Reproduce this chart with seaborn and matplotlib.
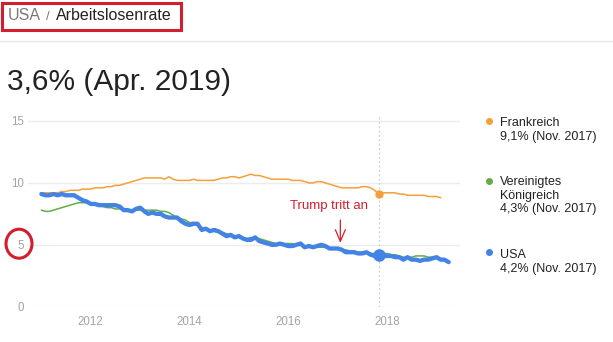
import numpy as np
import pandas as pd
import matplotlib
matplotlib.use("Agg")
import matplotlib.pyplot as plt
import matplotlib.dates as mdates
from matplotlib.patches import Ellipse, Rectangle
from matplotlib.lines import Line2D
import seaborn as sns

# ---------------- data (monthly) ----------------
usa = [
    9.1, 9.0, 9.0, 9.1, 9.0, 9.1, 9.0, 9.0, 9.0, 8.8, 8.6, 8.5,
    8.3, 8.3, 8.2, 8.2, 8.2, 8.2, 8.2, 8.1, 7.8, 7.8, 7.7, 7.9,
    8.0, 7.7, 7.5, 7.6, 7.5, 7.5, 7.3, 7.2, 7.2, 7.2, 6.9, 6.7,
    6.6, 6.7, 6.7, 6.2, 6.3, 6.1, 6.2, 6.1, 5.9, 5.7, 5.8, 5.6,
    5.7, 5.5, 5.4, 5.4, 5.6, 5.3, 5.2, 5.1, 5.0, 5.0, 5.1, 5.0,
    4.9, 4.9, 5.0, 5.1, 4.8, 4.9, 4.8, 4.9, 5.0, 4.9, 4.7, 4.7,
    4.7, 4.6, 4.4, 4.4, 4.4, 4.3, 4.3, 4.4, 4.2, 4.1, 4.2, 4.1,
    4.1, 4.1, 4.0, 4.0, 3.8, 4.0, 3.8, 3.8, 3.7, 3.8, 3.8, 3.9,
    4.0, 3.8, 3.8, 3.6,
]
frankreich = [
    9.2, 9.2, 9.2, 9.2, 9.2, 9.3, 9.3, 9.4, 9.4, 9.4, 9.5, 9.5,
    9.5, 9.6, 9.6, 9.6, 9.7, 9.7, 9.8, 9.8, 9.9, 10.0, 10.1, 10.2,
    10.3, 10.4, 10.4, 10.4, 10.4, 10.4, 10.3, 10.5, 10.3, 10.2, 10.2, 10.2,
    10.2, 10.3, 10.2, 10.2, 10.2, 10.2, 10.2, 10.3, 10.4, 10.4, 10.5, 10.5,
    10.4, 10.5, 10.6, 10.7, 10.6, 10.6, 10.5, 10.4, 10.3, 10.3, 10.3, 10.3,
    10.3, 10.2, 10.2, 10.2, 10.1, 10.0, 10.0, 10.1, 10.1, 10.0, 9.9, 9.8,
    9.7, 9.6, 9.6, 9.6, 9.6, 9.6, 9.7, 9.7, 9.6, 9.4, 9.1, 9.2,
    9.2, 9.2, 9.2, 9.1, 9.1, 9.0, 9.0, 9.0, 9.0, 9.0, 8.9, 8.9,
    8.9, 8.8,
]
uk = [
    7.8, 7.7, 7.7, 7.8, 7.9, 8.0, 8.1, 8.2, 8.3, 8.4, 8.4, 8.4,
    8.3, 8.3, 8.2, 8.1, 8.0, 8.0, 7.9, 7.9, 7.8, 7.8, 7.8, 7.8,
    7.8, 7.8, 7.8, 7.8, 7.8, 7.7, 7.7, 7.6, 7.4, 7.2, 7.1, 7.0,
    6.8, 6.8, 6.6, 6.4, 6.3, 6.2, 6.1, 6.0, 6.0, 5.9, 5.8, 5.7,
    5.6, 5.6, 5.5, 5.6, 5.5, 5.5, 5.4, 5.3, 5.2, 5.1, 5.1, 5.1,
    5.1, 5.1, 5.0, 5.0, 4.9, 4.9, 4.9, 4.8, 4.8, 4.8, 4.7, 4.7,
    4.7, 4.6, 4.6, 4.5, 4.5, 4.4, 4.4, 4.4, 4.3, 4.3, 4.3, 4.3,
    4.3, 4.2, 4.2, 4.1, 4.0, 4.0, 4.0, 4.1, 4.1, 4.1, 4.0, 4.0,
    3.9,
]
start_month = "2011-01-01"
highlight_month = "2017-11-01"
event_date = "2017-01-20"
event_label = "Trump tritt an"
y_ticks = [0, 5, 10, 15]
x_tick_years = [2012, 2014, 2016, 2018]

legend_names = ["Frankreich", "Vereinigtes\nKönigreich", "USA"]
legend_values = ["9,1% (Nov. 2017)", "4,3% (Nov. 2017)", "4,2% (Nov. 2017)"]
headline = "3,6% (Apr. 2019)"

# ---------------- build frames ----------------
def frame(vals, name):
    d = pd.date_range(start_month, periods=len(vals), freq="MS")
    return pd.DataFrame({"Datum": d, "Rate": vals, "Land": name})

df_fr = frame(frankreich, "Frankreich")
df_uk = frame(uk, "Vereinigtes Königreich")
df_us = frame(usa, "USA")

C_FR = "#f4a03a"
C_UK = "#62ad47"
C_US = "#4383e6"
RED = "#d21f2e"

sns.set_theme(style="white")
plt.rcParams["font.family"] = ["Liberation Sans", "DejaVu Sans"]

W, H = 613, 342
fig = plt.figure(figsize=(W / 100, H / 100), dpi=100)
fig.patch.set_facecolor("white")

def fx(px):
    return px / W

def fy(py):
    return (H - py) / H

ax = fig.add_axes([fx(28), fy(306.7), fx(460) - fx(28), fy(114.8) - fy(306.7)])
ax.set_facecolor("white")

sns.lineplot(data=df_fr, x="Datum", y="Rate", ax=ax, color=C_FR, linewidth=1.1, zorder=3)
sns.lineplot(data=df_uk, x="Datum", y="Rate", ax=ax, color=C_UK, linewidth=1.1, zorder=3)
sns.lineplot(data=df_us, x="Datum", y="Rate", ax=ax, color=C_US, linewidth=3.1, zorder=4)

hl = pd.Timestamp(highlight_month)
ax.axvline(hl, color="#cfcfcf", linestyle=(0, (1.5, 2)), linewidth=0.9, zorder=1)
fr_hl = df_fr.loc[df_fr["Datum"] == hl, "Rate"]
us_hl = df_us.loc[df_us["Datum"] == hl, "Rate"]
ax.plot([hl], fr_hl.values, marker="o", markersize=5, color=C_FR, zorder=6)
ax.plot([hl], us_hl.values, marker="o", markersize=8, color=C_US, zorder=6)

# annotation
ev = pd.Timestamp(event_date)
ax.annotate("", xy=(ev, 5.15), xytext=(ev, 7.0),
            arrowprops=dict(arrowstyle="->,head_length=0.7,head_width=0.3",
                            color=RED, lw=0.9, shrinkA=0, shrinkB=0), zorder=7)
ax.text(pd.Timestamp("2016-10-30"), 8.13, event_label, color=RED, fontsize=9.5,
        ha="center", va="center", zorder=7)

# axes styling
ax.set_xlim(pd.Timestamp("2010-09-24"), pd.Timestamp("2019-06-24"))
ax.set_ylim(0, 15.5)
ax.set_yticks(y_ticks)
ax.set_yticklabels([str(v) for v in y_ticks])
ax.set_xticks([pd.Timestamp(f"{y}-01-01") for y in x_tick_years])
ax.set_xticklabels([str(y) for y in x_tick_years])
ax.grid(axis="y", color="#ececec", linewidth=1.0)
ax.grid(axis="x", visible=False)
for s in ax.spines.values():
    s.set_visible(False)
ax.tick_params(axis="y", length=0, pad=3, labelsize=8.3, labelcolor="#a3a3a3")
ax.tick_params(axis="x", length=4, width=0.9, color="#dddddd", pad=3,
               labelsize=8.3, labelcolor="#a3a3a3")
ax.set_xlabel("")
ax.set_ylabel("")

# header
fig.text(fx(8), fy(16), "USA", color="#7a7a7a", fontsize=11.5, va="center", ha="left")
fig.text(fx(46), fy(16.5), "/", color="#7a7a7a", fontsize=9.5, va="center", ha="left")
fig.text(fx(56), fy(16), "Arbeitslosenrate", color="#222222", fontsize=11.5,
         va="center", ha="left")
fig.add_artist(Rectangle((fx(2), fy(30)), fx(181) - fx(2), fy(3) - fy(30),
                         transform=fig.transFigure, fill=False, edgecolor=RED,
                         linewidth=2.2))
fig.add_artist(Line2D([0, 1], [fy(41), fy(41)], transform=fig.transFigure,
                      color="#e6e6e6", linewidth=1.0))
fig.text(fx(7), fy(90), headline, color="#222222", fontsize=21.5, va="baseline",
         ha="left")

# red circle around the "5"
fig.add_artist(Ellipse((fx(19), fy(243.7)), fx(26), 29 / H, transform=fig.transFigure,
                       fill=False, edgecolor=RED, linewidth=2.2))

# legend
leg_colors = [C_FR, C_UK, C_US]
dot_y = [120.7, 180.5, 252]
name_y = [[122.5], [181.5, 195.5], [255]]
val_y = [137, 209, 269]
for c, dy, nm, ny, val, vy in zip(leg_colors, dot_y, legend_names, name_y,
                                  legend_values, val_y):
    fig.add_artist(Line2D([fx(489.3)], [fy(dy)], transform=fig.transFigure,
                          marker="o", markersize=4, color=c, linestyle="none"))
    for line, yy in zip(nm.split("\n"), ny):
        fig.text(fx(500), fy(yy), line, color="#222222", fontsize=9,
                 va="center", ha="left")
    fig.text(fx(500), fy(vy), val, color="#222222", fontsize=9,
             va="center", ha="left")

fig.savefig("out.png", dpi=100, facecolor="white")
